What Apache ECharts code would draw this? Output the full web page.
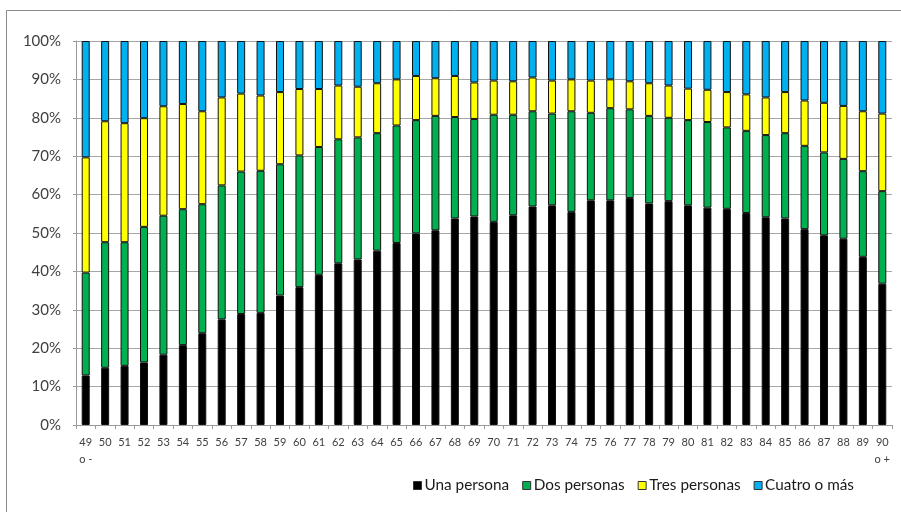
<!DOCTYPE html>
<html>
<head>
<meta charset="utf-8">
<script src="https://cdn.jsdelivr.net/npm/echarts@6/dist/echarts.min.js"></script>
<style>
  html, body { margin: 0; padding: 0; background: #ffffff; }
  #chart { width: 901px; height: 512px; }
</style>
</head>
<body>
<div id="chart"></div>
<script>
// Household size share by age of the reference person (percent of households)
var ages = ['49\no -', '50', '51', '52', '53', '54', '55', '56', '57', '58', '59',
  '60', '61', '62', '63', '64', '65', '66', '67', '68', '69',
  '70', '71', '72', '73', '74', '75', '76', '77', '78', '79',
  '80', '81', '82', '83', '84', '85', '86', '87', '88', '89', '90\no +'];

var unaPersona = [12.9, 14.9, 15.4, 16.3, 18.3, 20.8, 23.9, 27.5, 28.9, 29.2, 33.7,
  35.9, 39.1, 42.1, 43.1, 45.4, 47.4, 49.9, 50.7, 53.8, 54.3,
  52.9, 54.6, 56.9, 57.2, 55.5, 58.5, 58.5, 59.1, 57.7, 58.3,
  57.2, 56.6, 56.3, 55.2, 54.1, 53.8, 51.0, 49.4, 48.5, 43.8, 36.8];

var dosPersonas = [26.8, 32.7, 32.2, 35.3, 36.2, 35.4, 33.6, 34.9, 37.1, 37.0, 34.2,
  34.3, 33.3, 32.3, 31.8, 30.6, 30.6, 29.5, 29.8, 26.4, 25.4,
  27.9, 26.2, 24.8, 23.9, 26.2, 22.8, 24.0, 23.1, 22.8, 21.7,
  22.2, 22.3, 21.2, 21.4, 21.4, 22.2, 21.7, 21.6, 20.8, 22.3, 24.1];

var tresPersonas = [30.0, 31.5, 31.0, 28.3, 28.5, 27.4, 24.2, 22.9, 20.3, 19.6, 18.8,
  17.3, 15.1, 14.0, 13.2, 13.0, 12.0, 11.5, 9.8, 10.7, 9.5,
  8.9, 8.7, 8.8, 8.6, 8.3, 8.4, 7.5, 7.3, 8.5, 8.4,
  8.2, 8.4, 9.2, 9.5, 9.8, 10.7, 11.8, 12.9, 13.8, 15.6, 20.2];

var cuatroOMas = [30.3, 20.9, 21.4, 20.1, 17.0, 16.4, 18.3, 14.7, 13.7, 14.2, 13.3,
  12.5, 12.5, 11.6, 11.9, 11.0, 10.0, 9.1, 9.7, 9.1, 10.8,
  10.3, 10.5, 9.5, 10.3, 10.0, 10.3, 10.0, 10.5, 11.0, 11.6,
  12.4, 12.7, 13.3, 13.9, 14.7, 13.3, 15.5, 16.1, 16.9, 18.3, 18.9];

var seriesNames = ['Una persona', 'Dos personas', 'Tres personas', 'Cuatro o más'];
var seriesColors = ['#000000', '#00b050', '#ffff00', '#00b0f0'];
var seriesValues = [unaPersona, dosPersonas, tresPersonas, cuatroOMas];

var FONT = 'Lato, "Open Sans", sans-serif';
var TEXT = '#404040';

var chart = echarts.init(document.getElementById('chart'), null, { renderer: 'canvas' });

var series = seriesNames.map(function (name, i) {
  return {
    name: name,
    type: 'bar',
    stack: 'total',
    barWidth: 8,
    data: seriesValues[i],
    itemStyle: {
      color: seriesColors[i],
      borderColor: '#111111',
      borderWidth: 1
    },
    emphasis: { disabled: true }
  };
});

chart.setOption({
  animation: false,
  backgroundColor: '#ffffff',
  graphic: [{
    type: 'rect',
    shape: { x: 6.5, y: 10.5, width: 920, height: 520 },
    style: { fill: 'none', stroke: '#8c8c8c', lineWidth: 1 },
    silent: true
  }],
  grid: { left: 76, right: 9, top: 41, bottom: 87, containLabel: false },
  legend: {
    data: seriesNames,
    bottom: 14,
    left: 408,
    icon: 'rect',
    itemWidth: 8,
    itemHeight: 8,
    itemGap: 13,
    itemStyle: { borderColor: '#333333', borderWidth: 1 },
    textStyle: { fontFamily: FONT, fontSize: 15.3, color: '#1a1a1a', padding: [0, 0, 0, -2] }
  },
  xAxis: {
    type: 'category',
    data: ages,
    axisLine: { show: true, lineStyle: { color: '#9a9a9a', width: 1 } },
    axisTick: { show: true, length: 4, alignWithLabel: false, lineStyle: { color: '#9a9a9a' } },
    axisLabel: {
      interval: 0,
      fontFamily: FONT,
      fontSize: 11,
      color: TEXT,
      margin: 9,
      lineHeight: 17
    }
  },
  yAxis: {
    type: 'value',
    min: 0,
    max: 100,
    interval: 10,
    axisLine: { show: true, lineStyle: { color: '#9a9a9a', width: 1 } },
    axisTick: { show: true, length: 3, lineStyle: { color: '#9a9a9a' } },
    splitLine: { show: true, lineStyle: { color: '#a6a6a6', width: 1 } },
    axisLabel: {
      formatter: '{value}%',
      fontFamily: FONT,
      fontSize: 15,
      color: TEXT,
      margin: 15
    }
  },
  series: series
});
</script>
</body>
</html>
